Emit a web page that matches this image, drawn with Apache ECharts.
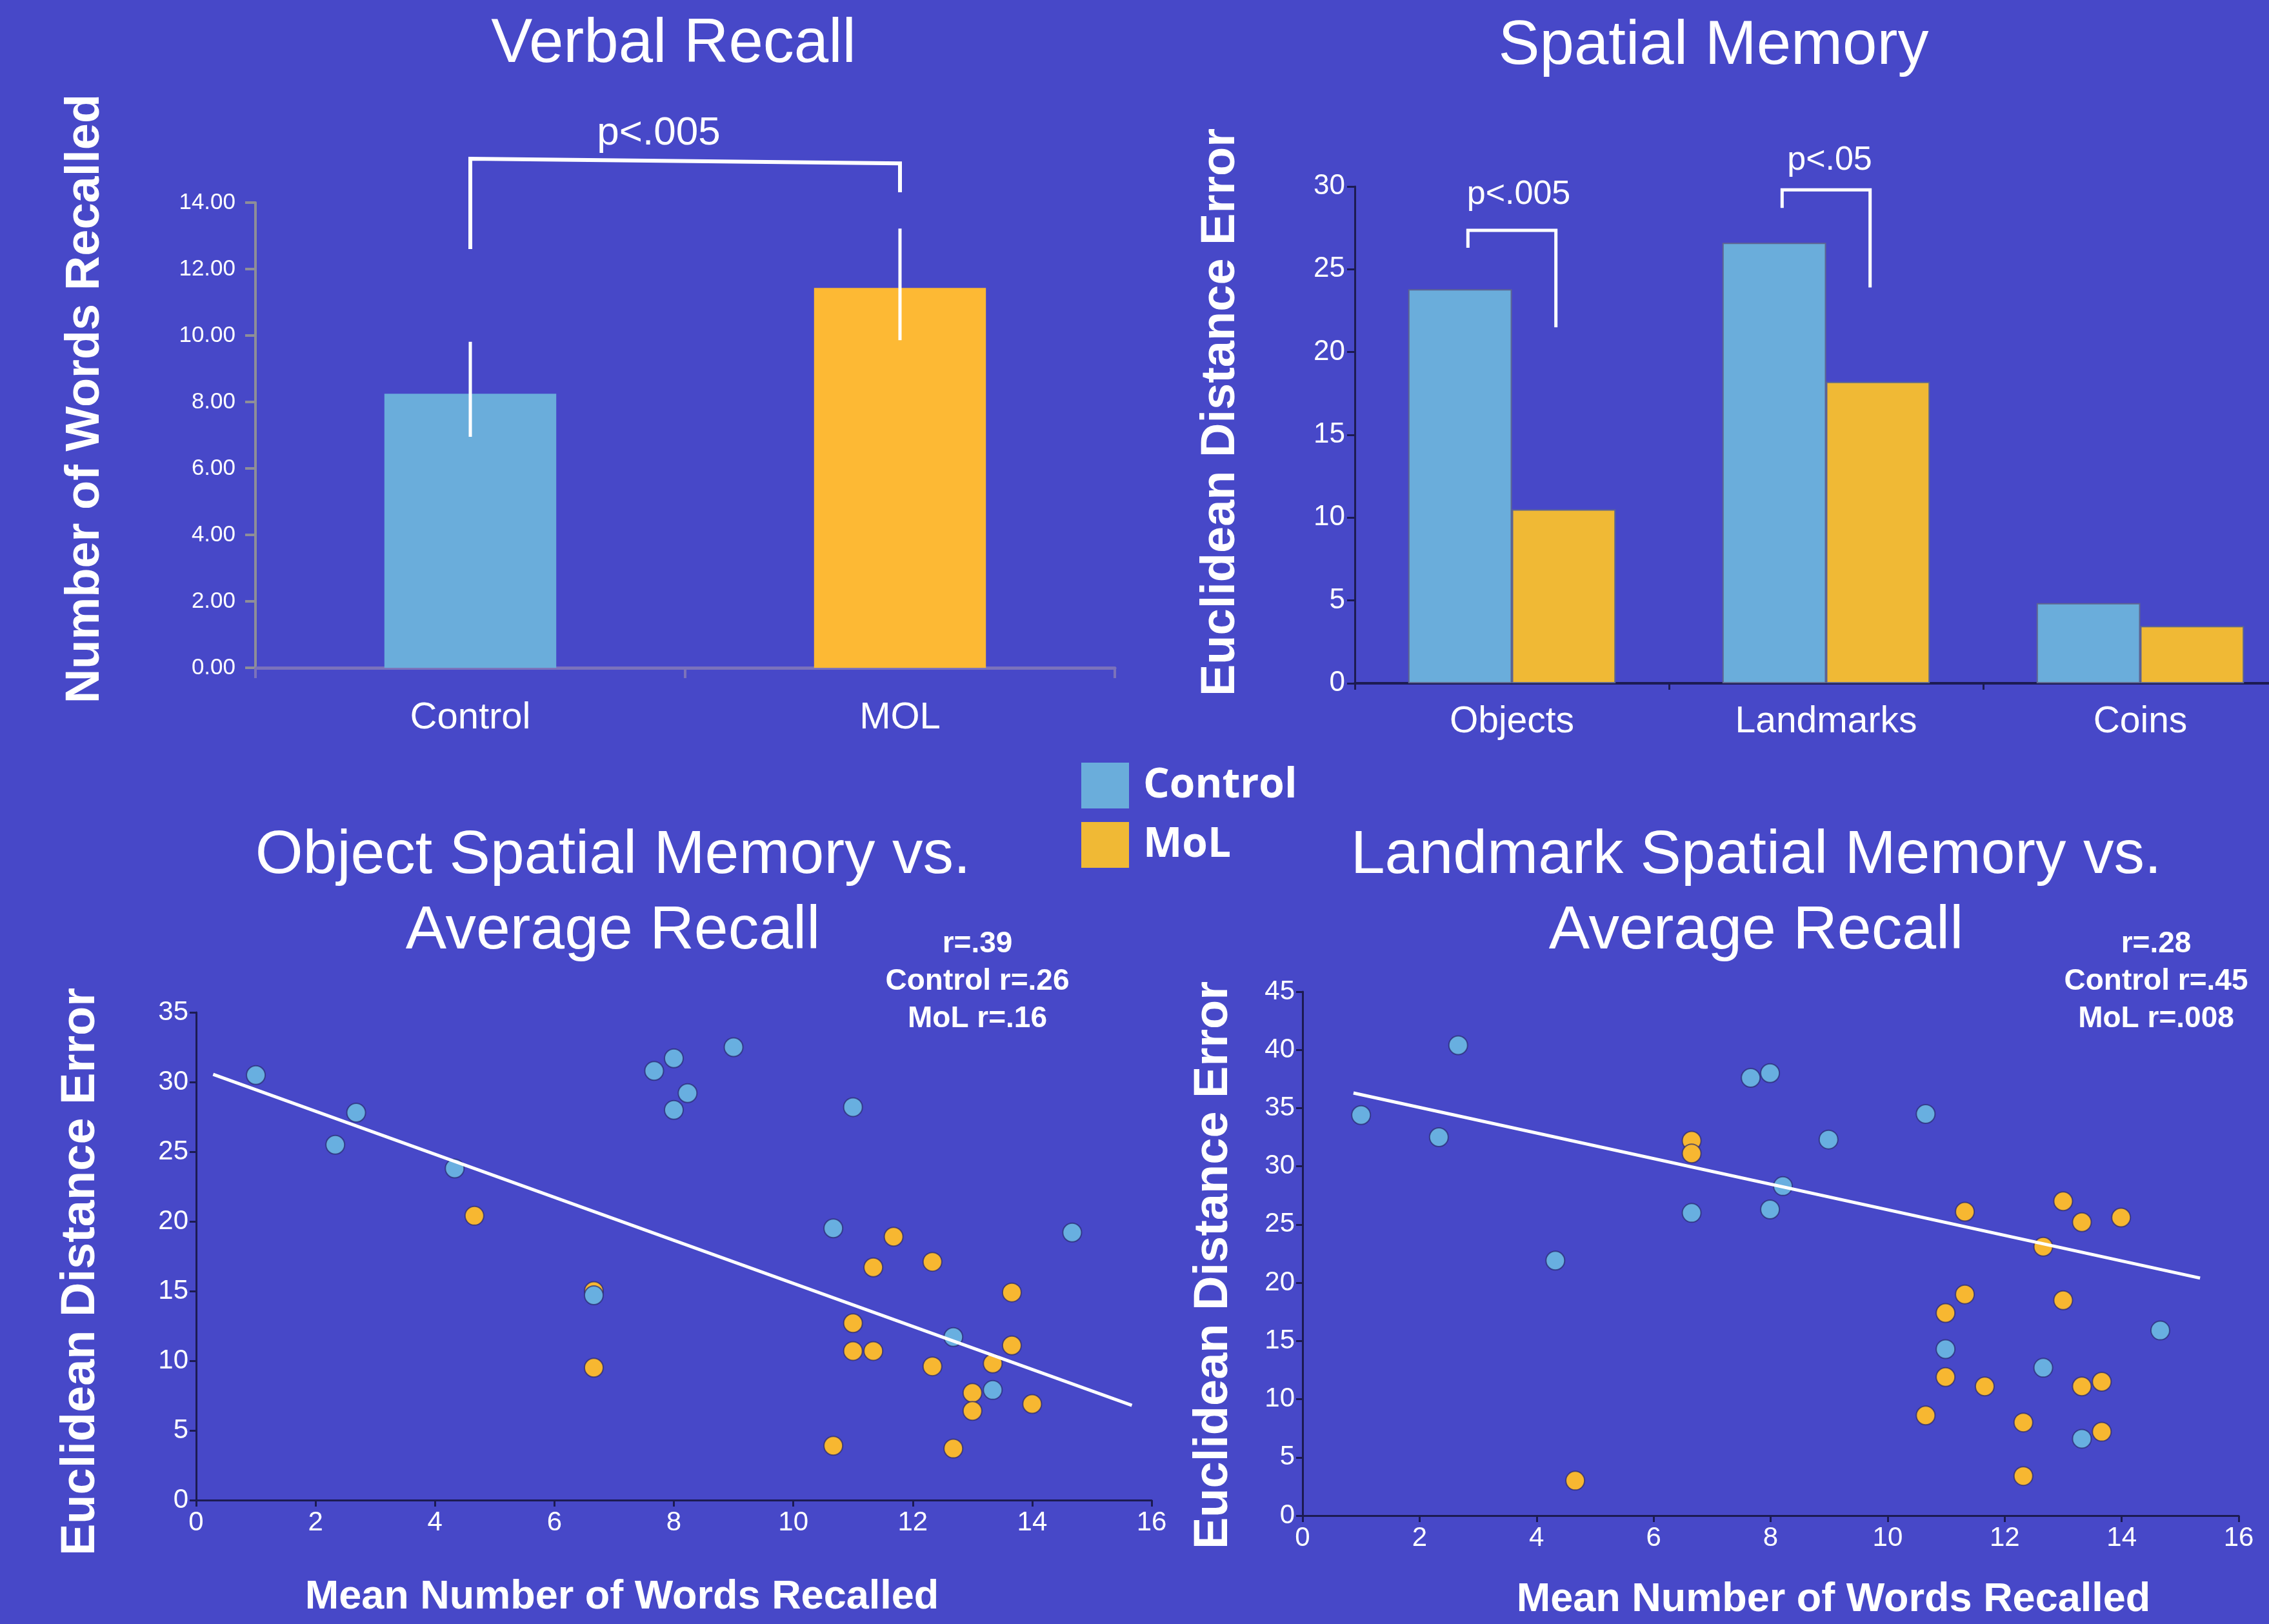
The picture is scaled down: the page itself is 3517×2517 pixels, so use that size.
<!DOCTYPE html>
<html>
<head>
<meta charset="utf-8">
<script src="https://cdn.jsdelivr.net/npm/echarts@6/dist/echarts.min.js"></script>
<style>
html,body{margin:0;padding:0;background:#4748C8;overflow:hidden;}
#chart{width:3561px;height:2517px;}
</style>
</head>
<body>
<div id="chart"></div>
<script>
// ---------- DATA ----------
const verbalCategories = ['Control', 'MOL'];
const verbalValues = [8.25, 11.43];
const verbalErrLow = [6.95, 9.86];
const verbalErrHigh = [9.81, 13.22];
// bracket: [catA, catB, bottomA, topA, topB, bottomB]
const verbalBracket = [[0, 1, 12.6, 15.32, 15.18, 14.31]];

const spatialCategories = ['Objects', 'Landmarks', 'Coins'];
const spatialControl = [23.8, 26.6, 4.84];
const spatialMoL = [10.5, 18.2, 3.46];
// bracket: [cat, bottomLeft, top, bottomRight]
const spatialBrackets = [[0, 26.3, 27.35, 21.5], [1, 28.7, 29.8, 23.9]];

const objectControl = [[1.0, 30.5], [2.33, 25.5], [2.68, 27.8], [4.33, 23.8], [6.66, 14.7], [7.67, 30.8], [8.0, 31.7], [8.0, 28.0], [8.23, 29.2], [9.0, 32.5], [10.67, 19.5], [11.0, 28.2], [12.68, 11.7], [13.34, 7.9], [14.67, 19.2]];
const objectMoL = [[4.66, 20.4], [6.66, 15.0], [6.66, 9.5], [10.67, 3.9], [11.0, 12.7], [11.0, 10.7], [11.34, 16.7], [11.34, 10.7], [11.68, 18.9], [12.33, 17.1], [12.33, 9.6], [12.68, 3.7], [13.0, 7.7], [13.0, 6.4], [13.34, 9.8], [13.66, 14.9], [13.66, 11.1], [14.0, 6.9]];
const objectTrend = [[0.285, 30.55], [15.67, 6.8]];

const landmarkControl = [[1.0, 34.4], [2.33, 32.5], [2.66, 40.4], [4.32, 21.9], [6.65, 26.0], [7.66, 37.6], [7.99, 38.0], [7.99, 26.3], [8.21, 28.3], [8.99, 32.3], [10.65, 34.5], [10.99, 14.3], [12.66, 12.7], [13.32, 6.6], [14.66, 15.9]];
const landmarkMoL = [[4.66, 3.0], [6.65, 32.2], [6.65, 31.1], [10.65, 8.6], [10.99, 17.4], [10.99, 11.9], [11.32, 26.1], [11.32, 19.0], [11.66, 11.1], [12.32, 8.0], [12.32, 3.4], [12.66, 23.1], [13.0, 27.0], [13.0, 18.5], [13.32, 25.2], [13.32, 11.1], [13.66, 11.5], [13.66, 7.2], [13.99, 25.6]];
const landmarkTrend = [[0.87, 36.3], [15.34, 20.4]];

const objectStats = ['r=.39', 'Control r=.26', 'MoL r=.16'];
const landmarkStats = ['r=.28', 'Control r=.45', 'MoL r=.008'];

// ---------- STYLE ----------
const BG = '#4748C8';
const BLUE = '#6AADDB';
const ORANGE = '#FDB934';
const ORANGE2 = '#F0B935';
const SBLUE = '#68AFE0';
const SORANGE = '#F7B731';
const NAVY = '#1c1b52';
const FONT = "'Liberation Sans', Arial, sans-serif";

function txt(x, y, text, size, bold, rot, lh) {
  return {
    type: 'text', x: x, y: y, rotation: rot ? Math.PI / 2 : 0, z: 100,
    style: {
      text: text, fill: '#ffffff',
      font: (bold ? 'bold ' : '') + size + 'px ' + FONT,
      align: 'center', verticalAlign: 'middle',
      lineHeight: lh || size
    }
  };
}

function scatterXAxis(idx) {
  return {
    gridIndex: idx, type: 'value', min: 0, max: 16, interval: 2,
    axisLine: {show: true, lineStyle: {color: NAVY, width: 3}},
    axisTick: {show: true, length: 10, lineStyle: {color: NAVY, width: 3}},
    axisLabel: {color: '#fff', fontSize: 42, fontFamily: FONT, margin: 14},
    splitLine: {show: false}
  };
}
function scatterYAxis(idx, max) {
  return {
    gridIndex: idx, type: 'value', min: 0, max: max, interval: 5,
    axisLine: {show: true, lineStyle: {color: NAVY, width: 3}},
    axisTick: {show: true, length: 10, lineStyle: {color: NAVY, width: 3}},
    axisLabel: {color: '#fff', fontSize: 42, fontFamily: FONT, margin: 12},
    splitLine: {show: false}
  };
}
function scatterSeries(name, data, color, idx) {
  return {
    type: 'scatter', name: name, xAxisIndex: idx, yAxisIndex: idx,
    data: data, symbolSize: 29, z: 3,
    itemStyle: {color: color, borderColor: 'rgba(40,40,110,0.7)', borderWidth: 2, opacity: 1}
  };
}
function trendSeries(data, idx) {
  return {
    type: 'line', name: 'Trend', xAxisIndex: idx, yAxisIndex: idx,
    data: data, showSymbol: false, symbol: 'none', z: 5, silent: true,
    lineStyle: {color: '#ffffff', width: 5}
  };
}

const chart = echarts.init(document.getElementById('chart'), null, {renderer: 'canvas'});

const option = {
  backgroundColor: BG,
  animation: false,
  legend: {
    orient: 'vertical', left: 1676, top: 1182, padding: 0,
    itemWidth: 74, itemHeight: 71, itemGap: 21,
    icon: 'rect',
    data: ['Control', 'MoL'],
    itemStyle: {borderWidth: 0},
    textStyle: {color: '#fff', fontFamily: "'Open Sans', 'Noto Sans', sans-serif", fontWeight: 'bold', fontSize: 64, padding: [0, 0, 4, 17]}
  },
  grid: [
    {left: 396, top: 314, width: 1332, height: 721},
    {left: 2100, top: 289, width: 1461, height: 770},
    {left: 304, top: 1569, width: 1481, height: 756},
    {left: 2019, top: 1537, width: 1451, height: 812}
  ],
  xAxis: [
    {
      gridIndex: 0, type: 'category', data: verbalCategories,
      axisLine: {show: true, lineStyle: {color: '#7b72bb', width: 5}},
      axisTick: {show: true, length: 16, lineStyle: {color: '#7b72bb', width: 4}},
      axisLabel: {color: '#fff', fontSize: 58, fontFamily: FONT, margin: 49}
    },
    {
      gridIndex: 1, type: 'category', data: spatialCategories,
      axisLine: {show: true, lineStyle: {color: NAVY, width: 4}},
      axisTick: {show: true, length: 10, lineStyle: {color: NAVY, width: 3}},
      axisLabel: {color: '#fff', fontSize: 57, fontFamily: FONT, margin: 32}
    },
    scatterXAxis(2),
    scatterXAxis(3)
  ],
  yAxis: [
    {
      gridIndex: 0, type: 'value', min: 0, max: 14, interval: 2,
      axisLine: {show: true, lineStyle: {color: '#8e8e98', width: 4}},
      axisTick: {show: true, length: 16, lineStyle: {color: '#8e8e98', width: 4}},
      axisLabel: {color: '#fff', fontSize: 35, fontFamily: FONT, margin: 31,
        formatter: function (v) { return v.toFixed(2); }},
      splitLine: {show: false}
    },
    {
      gridIndex: 1, type: 'value', min: 0, max: 30, interval: 5,
      axisLine: {show: true, lineStyle: {color: NAVY, width: 3}},
      axisTick: {show: true, length: 12, lineStyle: {color: NAVY, width: 3}},
      axisLabel: {color: '#fff', fontSize: 44, fontFamily: FONT, margin: 15},
      splitLine: {show: false}
    },
    scatterYAxis(2, 35),
    scatterYAxis(3, 45)
  ],
  series: [
    {
      type: 'bar', name: 'Verbal Recall', xAxisIndex: 0, yAxisIndex: 0,
      barWidth: '40%', z: 2,
      data: verbalValues.map(function (v, i) {
        return {value: v, itemStyle: {color: i === 0 ? BLUE : ORANGE}};
      })
    },
    {
      type: 'custom', name: 'Verbal error', xAxisIndex: 0, yAxisIndex: 0, z: 4, silent: true,
      data: verbalErrLow.map(function (lo, i) { return [i, lo, verbalErrHigh[i]]; }),
      encode: {x: 0, y: [1, 2]},
      renderItem: function (params, api) {
        const a = api.coord([api.value(0), api.value(1)]);
        const b = api.coord([api.value(0), api.value(2)]);
        return {type: 'line', shape: {x1: a[0], y1: a[1], x2: b[0], y2: b[1]},
          style: {stroke: '#ffffff', lineWidth: 5}};
      }
    },
    {
      type: 'custom', name: 'Verbal bracket', xAxisIndex: 0, yAxisIndex: 0, z: 4, silent: true, clip: false,
      data: verbalBracket,
      encode: {x: 0, y: 2},
      renderItem: function (params, api) {
        const p1 = api.coord([api.value(0), api.value(2)]);
        const p2 = api.coord([api.value(0), api.value(3)]);
        const p3 = api.coord([api.value(1), api.value(4)]);
        const p4 = api.coord([api.value(1), api.value(5)]);
        return {type: 'polyline', shape: {points: [p1, p2, p3, p4]},
          style: {stroke: '#ffffff', lineWidth: 6, fill: null}};
      }
    },
    {
      type: 'bar', name: 'Control', xAxisIndex: 1, yAxisIndex: 1,
      data: spatialControl, barGap: '0%', barCategoryGap: '34%', z: 2,
      itemStyle: {color: BLUE, borderColor: '#5e6690', borderWidth: 2}
    },
    {
      type: 'bar', name: 'MoL', xAxisIndex: 1, yAxisIndex: 1,
      data: spatialMoL, barGap: '0%', barCategoryGap: '34%', z: 2,
      itemStyle: {color: ORANGE2, borderColor: '#5e6690', borderWidth: 2}
    },
    {
      type: 'custom', name: 'Spatial brackets', xAxisIndex: 1, yAxisIndex: 1, z: 4, silent: true, clip: false,
      data: spatialBrackets,
      encode: {x: 0, y: 2},
      renderItem: function (params, api) {
        const c = api.value(0);
        const bw = api.size([1, 0])[0];
        const off = 0.14 * bw;
        const l1 = api.coord([c, api.value(1)]);
        const t = api.coord([c, api.value(2)]);
        const r1 = api.coord([c, api.value(3)]);
        const pts = [[l1[0] - off, l1[1]], [t[0] - off, t[1]], [t[0] + off, t[1]], [r1[0] + off, r1[1]]];
        return {type: 'polyline', shape: {points: pts},
          style: {stroke: '#ffffff', lineWidth: 5, fill: null}};
      }
    },
    scatterSeries('MoL', objectMoL, SORANGE, 2),
    scatterSeries('Control', objectControl, SBLUE, 2),
    trendSeries(objectTrend, 2),
    scatterSeries('MoL', landmarkMoL, SORANGE, 3),
    scatterSeries('Control', landmarkControl, SBLUE, 3),
    trendSeries(landmarkTrend, 3)
  ],
  graphic: [
    txt(1044, 70, 'Verbal Recall', 96),
    txt(2656, 73, 'Spatial Memory', 96),
    txt(950, 1385, 'Object Spatial Memory vs.\nAverage Recall', 95, false, false, 117),
    txt(2722, 1385, 'Landmark Spatial Memory vs.\nAverage Recall', 95, false, false, 117),
    txt(1021, 207, 'p<.005', 62),
    txt(2354, 302, 'p<.005', 52),
    txt(2836, 249, 'p<.05', 52),
    txt(1515, 1521, objectStats.join('\n'), 46, true, false, 58),
    txt(3342, 1521, landmarkStats.join('\n'), 46, true, false, 58),
    txt(133, 618, 'Number of Words Recalled', 74, true, true),
    txt(1893, 639, 'Euclidean Distance Error', 74, true, true),
    txt(126, 1971, 'Euclidean Distance Error', 74, true, true),
    txt(1882, 1961, 'Euclidean Distance Error', 74, true, true),
    txt(964, 2476, 'Mean Number of Words Recalled', 63, true),
    txt(2842, 2480, 'Mean Number of Words Recalled', 63, true)
  ]
};
chart.setOption(option);
</script>
</body>
</html>
